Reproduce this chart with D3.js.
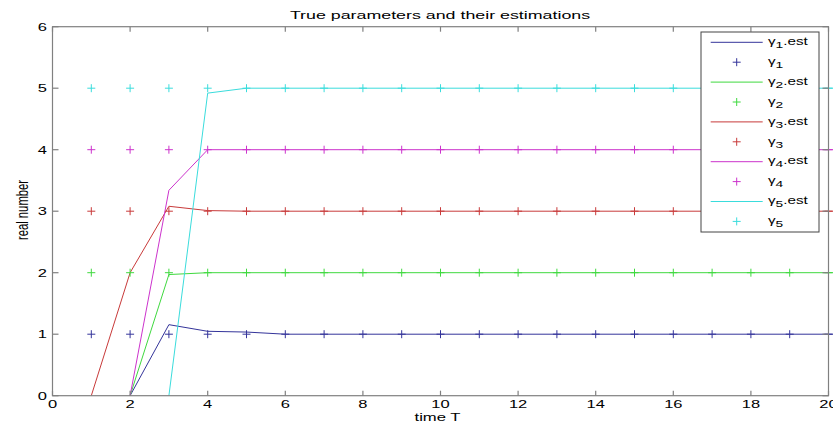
<!DOCTYPE html>
<html>
<head>
<meta charset="utf-8">
<script src="https://cdn.jsdelivr.net/npm/d3@7"></script>
<style>
  body { margin: 0; background: #fff; }
  text { font-family: "Liberation Sans", Arial, sans-serif; }
</style>
</head>
<body>
<div id="chart"></div>
<script>
// Chart size
const width = 833;
const height = 425;
const margin = { top: 26.7, right: 4.5, bottom: 29.3, left: 52.5 };

// Time steps
const timeSteps = d3.range(1, 22);     // estimates run off the right edge
const markerSteps = d3.range(1, 21);   // true values

// Estimated series (null = not drawn yet)
const gamma1Est = [null, 0, 1.155, 1.047, 1.035, 1.0, 1, 1, 1, 1, 1, 1, 1, 1, 1, 1, 1, 1, 1, 1, 1];
const gamma2Est = [null, 0, 1.97, 2.0, 2, 2, 2, 2, 2, 2, 2, 2, 2, 2, 2, 2, 2, 2, 2, 2, 2];
const gamma3Est = [0, 2.0, 3.08, 3.01, 3.0, 3.0, 3, 3, 3, 3, 3, 3, 3, 3, 3, 3, 3, 3, 3, 3, 3];
const gamma4Est = [null, 0, 3.34, 4.0, 4, 4, 4, 4, 4, 4, 4, 4, 4, 4, 4, 4, 4, 4, 4, 4, 4];
const gamma5Est = [null, null, 0, 4.92, 5.0, 5, 5, 5, 5, 5, 5, 5, 5, 5, 5, 5, 5, 5, 5, 5, 5];

// True parameter values
const trueValues = [1, 2, 3, 4, 5];

const seriesColors = ['#34349a', '#3fd93f', '#c83a3a', '#cc33cc', '#3adcdc'];
const estimates = [gamma1Est, gamma2Est, gamma3Est, gamma4Est, gamma5Est];

const xTicks = [0, 2, 4, 6, 8, 10, 12, 14, 16, 18, 20];
const yTicks = [0, 1, 2, 3, 4, 5, 6];

// the original figure was squeezed, so text looks wide
const stretch = 1.5;

const svg = d3.select('#chart')
  .append('svg')
  .attr('width', width)
  .attr('height', height);

const x = d3.scaleLinear().domain([0, 20]).range([margin.left, width - margin.right]);
const y = d3.scaleLinear().domain([0, 6]).range([height - margin.bottom, margin.top]);

const axisColor = '#808080';

function wideText(parent, tx, ty, str, size, anchor, sx) {
  return parent.append('text')
    .attr('transform', `translate(${tx},${ty}) scale(${sx || stretch},1)`)
    .attr('text-anchor', anchor || 'middle')
    .attr('font-size', size)
    .text(str);
}

// Estimated lines
const line = d3.line()
  .defined((d) => d.v !== null)
  .x((d) => x(d.t))
  .y((d) => y(d.v));

estimates.forEach((est, i) => {
  const pts = est.map((v, k) => ({ t: timeSteps[k], v: v }));
  svg.append('path')
    .datum(pts)
    .attr('d', line)
    .attr('fill', 'none')
    .attr('stroke', seriesColors[i])
    .attr('stroke-width', 1);
});

// True value markers (plus signs)
const plusSize = 4;
trueValues.forEach((val, i) => {
  const g = svg.append('g');
  markerSteps.forEach((t) => {
    g.append('path')
      .attr('d', `M${x(t) - plusSize},${y(val)}H${x(t) + plusSize}M${x(t)},${y(val) - plusSize}V${y(val) + plusSize}`)
      .attr('stroke', seriesColors[i])
      .attr('stroke-width', 1)
      .attr('fill', 'none');
  });
});

// Axes (box with inward ticks)
const x0 = x(0), x1 = x(20), y0 = y(0), y1 = y(6);
const axisG = svg.append('g').attr('stroke', axisColor).attr('stroke-width', 1.2);
axisG.append('rect')
  .attr('x', x0).attr('y', y1)
  .attr('width', x1 - x0).attr('height', y0 - y1)
  .attr('fill', 'none');

xTicks.forEach((t) => {
  axisG.append('line').attr('x1', x(t)).attr('x2', x(t)).attr('y1', y0).attr('y2', y0 - 5);
  axisG.append('line').attr('x1', x(t)).attr('x2', x(t)).attr('y1', y1).attr('y2', y1 + 5);
});
yTicks.forEach((t) => {
  axisG.append('line').attr('x1', x0).attr('x2', x0 + 6).attr('y1', y(t)).attr('y2', y(t));
  axisG.append('line').attr('x1', x1).attr('x2', x1 - 6).attr('y1', y(t)).attr('y2', y(t));
});

// Tick labels
const xLabels = svg.append('g');
xTicks.forEach((t) => wideText(xLabels, x(t), y0 + 12.6, t, 11));

const yLabels = svg.append('g');
yTicks.forEach((t) => wideText(yLabels, x0 - 5.5, y(t) + 3.8, t, 11, 'end'));

// Title and axis labels
wideText(svg, 440, 18.5, 'True parameters and their estimations', 11.5, 'middle', 1.55);
wideText(svg, 437.5, 421, 'time T', 11.5, 'middle', 1.45);

svg.append('text')
  .attr('transform', 'translate(28,210) rotate(-90) scale(1,1.5)')
  .attr('text-anchor', 'middle')
  .attr('font-size', 11.3)
  .text('real number');

// Legend
const legend = svg.append('g');
legend.append('rect')
  .attr('x', 701).attr('y', 32)
  .attr('width', 118).attr('height', 200)
  .attr('fill', '#fff')
  .attr('stroke', '#444')
  .attr('stroke-width', 1);

seriesColors.forEach((c, i) => {
  const yEst = 42.3 + i * 2 * 19.9;
  const yTrue = yEst + 19.9;

  legend.append('line')
    .attr('x1', 710.7).attr('x2', 762.7)
    .attr('y1', yEst).attr('y2', yEst)
    .attr('stroke', c).attr('stroke-width', 1);

  legend.append('path')
    .attr('d', `M${736.7 - plusSize},${yTrue}H${736.7 + plusSize}M736.7,${yTrue - plusSize}V${yTrue + plusSize}`)
    .attr('stroke', c).attr('stroke-width', 1);

  const t1 = legend.append('text')
    .attr('transform', `translate(768,${yEst + 2.7}) scale(1.45,1)`)
    .attr('font-size', 10.5);
  t1.append('tspan').text('γ');
  t1.append('tspan').attr('dy', 3).attr('font-size', 9.5).text(i + 1);
  t1.append('tspan').attr('dy', -3).text('.est');

  const t2 = legend.append('text')
    .attr('transform', `translate(768,${yTrue + 2.7}) scale(1.45,1)`)
    .attr('font-size', 10.5);
  t2.append('tspan').text('γ');
  t2.append('tspan').attr('dy', 3).attr('font-size', 9.5).text(i + 1);
});
</script>
</body>
</html>
